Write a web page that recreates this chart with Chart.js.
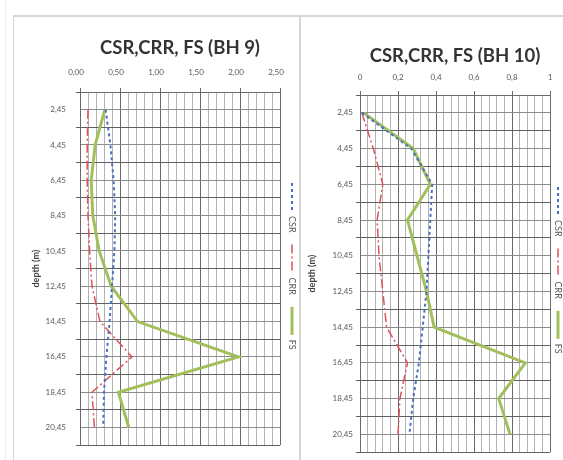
<!DOCTYPE html>
<html>
<head>
<meta charset="utf-8">
<title>CSR, CRR, FS</title>
<script src="https://cdn.jsdelivr.net/npm/chart.js@4.4.1/dist/chart.umd.min.js"></script>
<style>
  html, body { margin: 0; padding: 0; background: #fff; }
  body { width: 563px; height: 460px; overflow: hidden; position: relative; }
  .line { position: absolute; background: #d6d6d6; }
  canvas { position: absolute; top: 17px; }
  #bh9 { left: 14px; }
  #bh10 { left: 301px; }
</style>
</head>
<body>
<div class="line" style="left:5px; top:0; width:1px; height:460px; background:#eeeeee;"></div>
<div class="line" style="left:13px; top:15px; width:560px; height:2px;"></div>
<div class="line" style="left:13px; top:15px; width:1px; height:445px;"></div>
<div class="line" style="left:299px; top:15px; width:2px; height:445px;"></div>
<canvas id="bh9" width="286" height="443"></canvas>
<canvas id="bh10" width="290" height="443"></canvas>
<script>
// depth of each test level (m) and its axis label
const depths = [2.45, 4.45, 6.45, 8.45, 10.45, 12.45, 14.45, 16.45, 18.45, 20.45];
const depthLabels = ['2,45', '4,45', '6,45', '8,45', '10,45', '12,45', '14,45', '16,45', '18,45', '20,45'];

// BH 9
const csrBH9 = [0.32, 0.38, 0.42, 0.44, 0.43, 0.40, 0.37, 0.33, 0.30, 0.29];
const crrBH9 = [0.10, 0.09, 0.09, 0.10, 0.12, 0.15, 0.25, 0.65, 0.15, 0.18];
const fsBH9  = [0.31, 0.19, 0.14, 0.16, 0.24, 0.39, 0.72, 1.98, 0.48, 0.61];
const xLabelsBH9 = ['0,00', '0,50', '1,00', '1,50', '2,00', '2,50'];

// BH 10
const csrBH10 = [0.01, 0.27, 0.38, 0.37, 0.36, 0.35, 0.33, 0.31, 0.28, 0.26];
const crrBH10 = [0.01, 0.07, 0.12, 0.09, 0.10, 0.12, 0.14, 0.25, 0.21, 0.20];
const fsBH10  = [0.02, 0.28, 0.37, 0.25, 0.30, 0.35, 0.39, 0.87, 0.73, 0.79];
const xLabelsBH10 = ['0', '0,2', '0,4', '0,6', '0,8', '1'];

const seriesNames = ['CSR', 'CRR', 'FS'];

const tickGrey = '#595959';
const font = 'Lato';

// line look per series: CSR dashed blue, CRR dash-dot red, FS solid green
const seriesStyle = [
    { borderColor: '#4a6fc4', borderDash: [3, 3], borderWidth: 2 },
    { borderColor: '#e0505a', borderDash: [9, 3, 2, 3], borderWidth: 1.5 },
    { borderColor: '#a3bf5c', borderDash: [], borderWidth: 3 }
];

function toPoints(values) {
    return values.map((v, i) => ({ x: v, y: depths[i] }));
}

// vertical legend written down the right side of each chart
const sideLegend = {
    id: 'sideLegend',
    afterDraw(chart, args, opts) {
        const ctx = chart.ctx;
        ctx.save();
        ctx.translate(opts.x, opts.y);
        ctx.rotate(Math.PI / 2);
        ctx.font = '9px ' + font;
        ctx.textBaseline = 'middle';
        let pos = 0;
        chart.data.datasets.forEach(ds => {
            ctx.beginPath();
            ctx.setLineDash(ds.borderDash);
            ctx.strokeStyle = ds.borderColor;
            ctx.lineWidth = ds.borderWidth;
            ctx.moveTo(pos, 0);
            ctx.lineTo(pos + 28, 0);
            ctx.stroke();
            ctx.setLineDash([]);
            ctx.fillStyle = tickGrey;
            ctx.fillText(ds.label, pos + 33, 0);
            pos += 33 + ctx.measureText(ds.label).width + 12;
        });
        ctx.restore();
    }
};

function makeChart(id, o) {
    // one grid line every minor step, labelled every fifth
    const xTicks = [];
    for (let i = 0; i <= 25; i++) xTicks.push(Math.round(i * o.xStep * 1000) / 1000);
    const yTicks = [];
    for (let i = 0; i <= 20; i++) yTicks.push(Math.round((1.45 + i) * 100) / 100);

    const values = [o.csr, o.crr, o.fs];

    return new Chart(document.getElementById(id), {
        type: 'scatter',
        data: {
            datasets: values.map((v, i) => Object.assign({
                label: seriesNames[i],
                data: toPoints(v),
                showLine: true,
                pointRadius: 0,
                fill: false
            }, seriesStyle[i]))
        },
        options: {
            responsive: false,
            animation: false,
            layout: { padding: o.padding },
            plugins: {
                legend: { display: false },
                tooltip: { enabled: false },
                title: {
                    display: true,
                    text: o.title,
                    fullSize: false,
                    color: '#333333',
                    font: { family: font, size: 18.5, weight: 'bold' },
                    padding: { top: o.titleTop, bottom: 0 }
                },
                sideLegend: o.legend
            },
            scales: {
                x: {
                    type: 'linear',
                    position: 'top',
                    min: 0,
                    max: xTicks[xTicks.length - 1],
                    afterBuildTicks: s => { s.ticks = xTicks.map(v => ({ value: v })); },
                    afterFit: s => { s.height = o.xHeight; },
                    ticks: {
                        autoSkip: false,
                        maxRotation: 0,
                        padding: o.xPad,
                        labelOffset: o.xLabelOffset,
                        color: tickGrey,
                        font: { family: font, size: 8 },
                        callback: (value, index) => index % 5 === 0 ? o.xLabels[index / 5] : ''
                    },
                    grid: {
                        color: c => c.index % 5 === 0 ? '#6a6a6a' : '#b2b2b2',
                        tickColor: c => c.index % 5 === 0 ? '#6a6a6a' : 'rgba(0,0,0,0)',
                        tickLength: 4
                    },
                    border: { color: '#6a6a6a' }
                },
                y: {
                    type: 'linear',
                    reverse: true,
                    min: 1.45,
                    max: 21.45,
                    afterBuildTicks: s => { s.ticks = yTicks.map(v => ({ value: v })); },
                    afterFit: s => { s.width = o.yWidth; },
                    ticks: {
                        autoSkip: false,
                        padding: o.yPad,
                        color: tickGrey,
                        font: { family: font, size: 8 },
                        callback: value => {
                            const i = depths.indexOf(value);
                            return i >= 0 ? depthLabels[i] : '';
                        }
                    },
                    title: {
                        display: true,
                        text: 'depth (m)',
                        color: '#404040',
                        font: { family: font, size: 9, weight: 'bold' },
                        padding: { top: o.yTitlePad, bottom: 0 }
                    },
                    grid: {
                        color: c => c.index % 2 === 0 ? '#606060' : '#8c8c8c',
                        tickColor: c => c.index % 2 === 0 ? '#606060' : 'rgba(0,0,0,0)',
                        tickLength: 4
                    },
                    border: { color: '#6a6a6a' }
                }
            }
        },
        plugins: [sideLegend]
    });
}

makeChart('bh9', {
    title: 'CSR,CRR, FS (BH 9)',
    csr: csrBH9, crr: crrBH9, fs: fsBH9,
    xLabels: xLabelsBH9, xStep: 0.1, xLabelOffset: -4,
    padding: { left: 8, right: 20, top: 0, bottom: 7 },
    titleTop: 20, xHeight: 32.8, xPad: 11,
    yWidth: 58, yPad: 10, yTitlePad: 8.6,
    legend: { x: 278, y: 166 }
});

makeChart('bh10', {
    title: 'CSR,CRR, FS (BH 10)',
    csr: csrBH10, crr: crrBH10, fs: fsBH10,
    xLabels: xLabelsBH10, xStep: 0.04, xLabelOffset: 0,
    padding: { left: 0, right: 41, top: 0, bottom: 5 },
    titleTop: 28, xHeight: 27.8, xPad: 9,
    yWidth: 59, yPad: 3, yTitlePad: 5.6,
    legend: { x: 257, y: 170 }
});
</script>
</body>
</html>
